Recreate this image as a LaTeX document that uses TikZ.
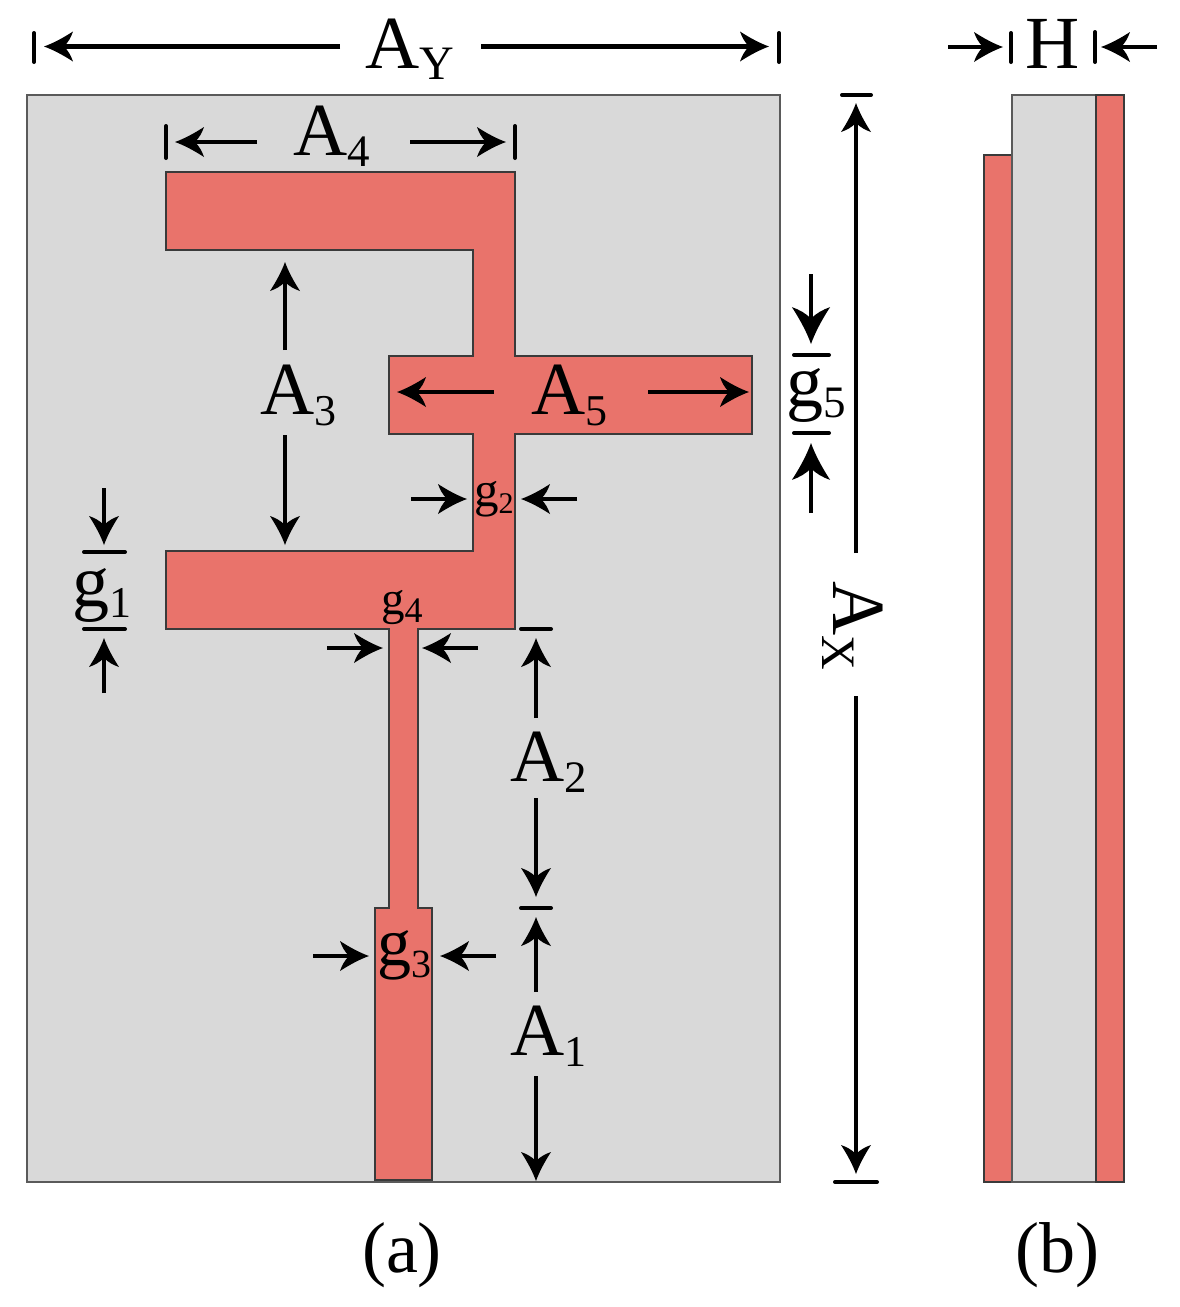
\documentclass[tikz,border=0pt]{standalone}
\usepackage{fontspec}
\setmainfont{Liberation Serif}
\usetikzlibrary{arrows.meta}
\newcommand{\mkswoop}[4]{%
\pgfdeclarearrow{
  name=#1,
  setup code={
    \pgfarrowssettipend{0pt}
    \pgfarrowssetlineend{#3}
    \pgfarrowssetvisualbackend{#3}
    \pgfarrowssetbackend{#4}
    \pgfarrowshullpoint{0pt}{0pt}
    \pgfarrowshullpoint{#4}{0pt}
  },
  drawing code={
    \pgftransformscale{#2}
    \pgfpathmoveto{\pgfpoint{0pt}{0pt}}
    \pgfpathcurveto{\pgfpoint{-9pt}{3.2pt}}{\pgfpoint{-19pt}{8.5pt}}{\pgfpoint{-29pt}{15pt}}
    \pgfpathcurveto{\pgfpoint{-27pt}{9pt}}{\pgfpoint{-24pt}{4pt}}{\pgfpoint{-20pt}{0pt}}
    \pgfpathcurveto{\pgfpoint{-24pt}{-4pt}}{\pgfpoint{-27pt}{-9pt}}{\pgfpoint{-29pt}{-15pt}}
    \pgfpathcurveto{\pgfpoint{-19pt}{-8.5pt}}{\pgfpoint{-9pt}{-3.2pt}}{\pgfpoint{0pt}{0pt}}
    \pgfpathclose
    \pgfusepathqfill
  }
}}
\mkswoop{Swoop}{1}{-20pt}{-29pt}
\mkswoop{SwoopBig}{1.27}{-25pt}{-37pt}
\definecolor{subst}{HTML}{D9D9D9}
\definecolor{copper}{HTML}{E9736B}
\definecolor{edgegray}{HTML}{5A5A5A}
\definecolor{cuedge}{HTML}{3A3A3A}
\newcommand{\bigsym}[3]{{\fontsize{75pt}{75pt}\selectfont #1}\raisebox{-11pt}{\fontsize{#3}{#3}\selectfont #2}}
\newcommand{\gsym}[4]{{\fontsize{#2}{#2}\selectfont g}\raisebox{-#4}{\fontsize{#3}{#3}\selectfont #1}}
\tikzset{
  x=1pt,y=-1pt,
  sub/.style={fill=subst,draw=edgegray,line width=1.8pt},
  cu/.style={fill=copper,draw=cuedge,line width=1.3pt,line join=miter},
  dim/.style={line width=4.5pt,-Swoop,black},
  dimbig/.style={line width=4.5pt,-SwoopBig,black},
  tick/.style={line width=4pt,line cap=round,black},
  lab/.style={anchor=base west,inner sep=0pt,text=black},
  captext/.style={anchor=base,inner sep=0pt,font=\fontsize{72pt}{72pt}\selectfont},
}
\begin{document}
\begin{tikzpicture}
\useasboundingbox (0,0) rectangle (1179,1307);
% substrate and patch, view (a)
\path[sub] (27,95) rectangle (780,1182);
\path[cu] (166,172) -- (515,172) -- (515,356) -- (752,356) -- (752,434) -- (515,434) -- (515,629)
  -- (418,629) -- (418,908) -- (432,908) -- (432,1180) -- (375,1180) -- (375,908) -- (389,908)
  -- (389,629) -- (166,629) -- (166,551) -- (473,551) -- (473,434) -- (389,434) -- (389,356)
  -- (473,356) -- (473,250) -- (166,250) -- cycle;
% view (b)
\path[cu] (984,155) rectangle (1012,1182);
\path[sub] (1012,95) rectangle (1096,1182);
\path[cu] (1096,95) rectangle (1124,1182);

% labels
\node[lab] (ay) at (365,68) {\bigsym{A}{Y}{48pt}};
\node[lab] (a4) at (293,155) {\bigsym{A}{4}{45pt}};
\node[lab] (a3) at (260,414) {\bigsym{A}{3}{44pt}};
\node[lab] (a5) at (531,414) {\bigsym{A}{5}{44pt}};
\node[lab] (a2) at (510,781) {\bigsym{A}{2}{45pt}};
\node[lab] (a1) at (510,1055) {\bigsym{A}{1}{44pt}};
\node[lab] (h) at (1025,68) {\fontsize{75pt}{75pt}\selectfont H};
\node[lab,rotate=-90] (ax) at (833,581) {\bigsym{A}{X}{48pt}};
\node[lab] (g1) at (72,606) {\gsym{1}{74pt}{44pt}{11pt}};
\node[lab] (g2) at (474,506) {\gsym{2}{49pt}{30pt}{7pt}};
\node[lab] (g3) at (377,965) {\gsym{3}{68pt}{40pt}{12pt}};
\node[lab] (g4) at (381,614) {\gsym{4}{47pt}{36pt}{8pt}};
\node[lab] (g5) at (786,406) {\gsym{5}{74pt}{45pt}{11pt}};
\node[captext] (capa) at (402,1272) {(a)};
\node[captext] (capb) at (1057,1272) {(b)};

% end points of dimension lines
\coordinate (ayLt) at (34,33);   \coordinate (ayLb) at (34,62);
\coordinate (ayRt) at (779,33);  \coordinate (ayRb) at (779,62);
\coordinate (ayLa) at (340,46.5);  \coordinate (ayLp) at (44,46.5);
\coordinate (ayRa) at (481,46.5);  \coordinate (ayRp) at (769,46.5);
\coordinate (a4Lt) at (166,126); \coordinate (a4Lb) at (166,158);
\coordinate (a4Rt) at (515,126); \coordinate (a4Rb) at (515,158);
\coordinate (a4La) at (257,142); \coordinate (a4Lp) at (175,142);
\coordinate (a4Ra) at (410,142); \coordinate (a4Rp) at (506,142);
\coordinate (a3Ua) at (285,350); \coordinate (a3Up) at (285,262);
\coordinate (a3Da) at (285,435); \coordinate (a3Dp) at (285,545);
\coordinate (a5La) at (494,392); \coordinate (a5Lp) at (397,392);
\coordinate (a5Ra) at (648,392); \coordinate (a5Rp) at (749,392);
\coordinate (g5Da) at (811,274); \coordinate (g5Dp) at (811,344);
\coordinate (g5Ua) at (811,513); \coordinate (g5Up) at (811,443);
\coordinate (g5T1) at (794,355); \coordinate (g5T2) at (829,355);
\coordinate (g5B1) at (794,433); \coordinate (g5B2) at (829,433);
\coordinate (g2La) at (411,499); \coordinate (g2Lp) at (467,499);
\coordinate (g2Ra) at (577,499); \coordinate (g2Rp) at (521,499);
\coordinate (g1Da) at (104,488); \coordinate (g1Dp) at (104,545);
\coordinate (g1Ua) at (104,693); \coordinate (g1Up) at (104,638);
\coordinate (g1T1) at (84,552);  \coordinate (g1T2) at (125,552);
\coordinate (g1B1) at (84,629);  \coordinate (g1B2) at (125,629);
\coordinate (g4La) at (327,648); \coordinate (g4Lp) at (383,648);
\coordinate (g4Ra) at (478,648); \coordinate (g4Rp) at (422,648);
\coordinate (a2T1) at (521,629); \coordinate (a2T2) at (551,629);
\coordinate (a2Ua) at (536,718); \coordinate (a2Up) at (536,638);
\coordinate (a2Da) at (536,798); \coordinate (a2Dp) at (536,897);
\coordinate (a2B1) at (521,908); \coordinate (a2B2) at (551,908);
\coordinate (a1Ua) at (536,992); \coordinate (a1Up) at (536,917);
\coordinate (a1Da) at (536,1076);\coordinate (a1Dp) at (536,1181);
\coordinate (g3La) at (313,956); \coordinate (g3Lp) at (369,956);
\coordinate (g3Ra) at (496,956); \coordinate (g3Rp) at (440,956);
\coordinate (axT1) at (842,95);  \coordinate (axT2) at (871,95);
\coordinate (axUa) at (856,553); \coordinate (axUp) at (856,103);
\coordinate (axDa) at (856,696); \coordinate (axDp) at (856,1174);
\coordinate (axB1) at (835,1182);\coordinate (axB2) at (877,1182);
\coordinate (hLa) at (948,47);   \coordinate (hLp) at (1003,47);
\coordinate (hRa) at (1157,47);  \coordinate (hRp) at (1101,47);
\coordinate (hT1) at (1011,33);  \coordinate (hT2) at (1011,62);
\coordinate (hT3) at (1095,32);  \coordinate (hT4) at (1095,62);

% ticks
\foreach \p/\q in {ayLt/ayLb,ayRt/ayRb,a4Lt/a4Lb,a4Rt/a4Rb,g5T1/g5T2,g5B1/g5B2,g1T1/g1T2,g1B1/g1B2,
                   a2T1/a2T2,a2B1/a2B2,axT1/axT2,axB1/axB2,hT1/hT2,hT3/hT4}
  \draw[tick] (\p) -- (\q);
% arrows
\foreach \p/\q in {ayLa/ayLp,ayRa/ayRp,a4La/a4Lp,a4Ra/a4Rp,a3Ua/a3Up,a3Da/a3Dp,a5La/a5Lp,a5Ra/a5Rp,
                   g2La/g2Lp,g2Ra/g2Rp,g1Da/g1Dp,g1Ua/g1Up,g4La/g4Lp,g4Ra/g4Rp,
                   a2Ua/a2Up,a2Da/a2Dp,a1Ua/a1Up,a1Da/a1Dp,g3La/g3Lp,g3Ra/g3Rp,axUa/axUp,axDa/axDp,
                   hLa/hLp,hRa/hRp}
  \draw[dim] (\p) -- (\q);
\foreach \p/\q in {g5Da/g5Dp,g5Ua/g5Up}
  \draw[dimbig] (\p) -- (\q);
\end{tikzpicture}
\end{document}
